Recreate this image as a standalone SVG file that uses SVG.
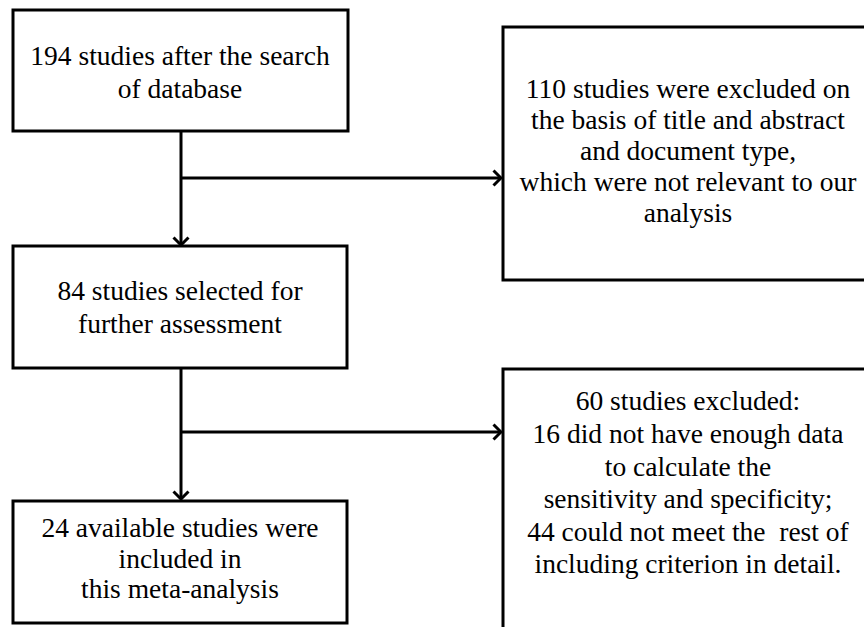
<svg xmlns="http://www.w3.org/2000/svg" width="864" height="627" viewBox="0 0 864 627">
<defs>
<style>
.box{fill:#fff;stroke:#000;stroke-width:3}
.t{font-family:"Liberation Serif","Times New Roman",serif;font-size:27.5px;fill:#000;text-anchor:middle}
.pre{white-space:pre}
.c{fill:none;stroke:#000;stroke-width:3}
</style>
<marker id="ah" markerUnits="userSpaceOnUse" viewBox="-10 -10 12 20" markerWidth="12" markerHeight="20" refX="0" refY="0" orient="auto">
<path d="M-7.5,-7.5 L0,0 L-7.5,7.5" fill="none" stroke="#000" stroke-width="3" stroke-linejoin="miter"/>
</marker>
</defs>
<rect width="864" height="627" fill="#fff"/>
<g id="connectors">
<path class="c" d="M181,131 V245" marker-end="url(#ah)"/>
<path class="c" d="M181,178 H501" marker-end="url(#ah)"/>
<path class="c" d="M181,368 V499" marker-end="url(#ah)"/>
<path class="c" d="M181,432 H501" marker-end="url(#ah)"/>
</g>
<g id="n1">
<rect class="box" x="13" y="10" width="335" height="121"/>
<text class="t" x="180" y="65">194 studies after the search</text>
<text class="t" x="180" y="98">of database</text>
</g>
<g id="n2">
<rect class="box" x="503" y="27" width="400" height="253"/>
<text class="t" x="688" y="98">110 studies were excluded on</text>
<text class="t" x="688" y="129">the basis of title and abstract</text>
<text class="t" x="688" y="160">and document type,</text>
<text class="t" x="688" y="191">which were not relevant to our</text>
<text class="t" x="688" y="222">analysis</text>
</g>
<g id="n3">
<rect class="box" x="13" y="246" width="334" height="122"/>
<text class="t" x="180" y="300">84 studies selected for</text>
<text class="t" x="180" y="333">further assessment</text>
</g>
<g id="n4">
<rect class="box" x="503" y="369" width="400" height="300"/>
<text class="t" x="688" y="410">60 studies excluded:</text>
<text class="t" x="688" y="443">16 did not have enough data</text>
<text class="t" x="688" y="476">to calculate the</text>
<text class="t" x="688" y="508">sensitivity and specificity;</text>
<text class="t pre" x="688" y="541" xml:space="preserve">44 could not meet the  rest of</text>
<text class="t" x="688" y="573">including criterion in detail.</text>
</g>
<g id="n5">
<rect class="box" x="13" y="501" width="334" height="122"/>
<text class="t" x="180" y="537">24 available studies were</text>
<text class="t" x="180" y="568">included in</text>
<text class="t" x="180" y="598">this meta-analysis</text>
</g>
</svg>
